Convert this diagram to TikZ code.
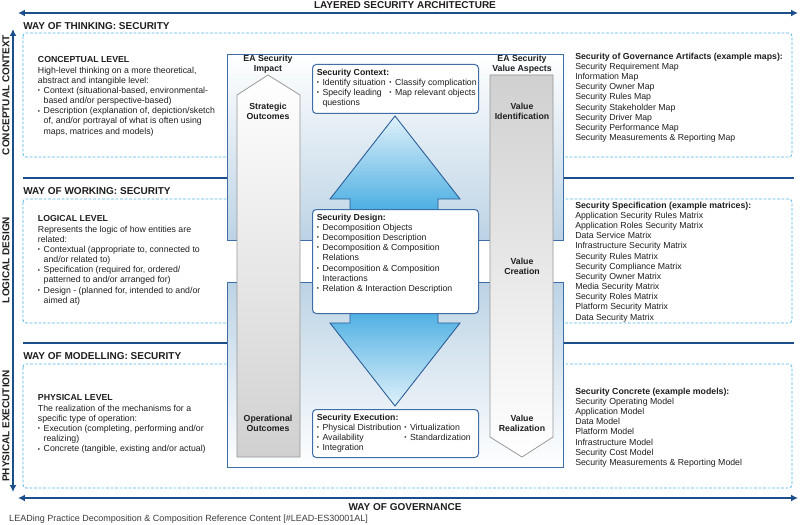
\documentclass[tikz,border=0pt]{standalone}
\usepackage{fontspec}
\setmainfont{Liberation Sans}
\usepackage{tikz}
\usetikzlibrary{positioning,arrows.meta}
\definecolor{govblue}{RGB}{28,78,140}
\definecolor{dashblue}{RGB}{80,180,230}
\definecolor{panelline}{RGB}{62,110,168}
\definecolor{panelfill}{RGB}{188,211,229}
\definecolor{flowlight}{RGB}{224,241,250}
\definecolor{flowdark}{RGB}{68,171,225}
\definecolor{flowline}{RGB}{40,92,150}
\definecolor{colgray}{RGB}{208,208,208}
\definecolor{colline}{RGB}{150,150,150}
\definecolor{textgray}{RGB}{30,30,30}
\definecolor{footgray}{RGB}{60,60,60}
\newcommand{\blt}{\makebox[4.6pt][l]{\raisebox{0.6pt}{\fontsize{5}{5}\selectfont\textbullet}}}
\newcommand{\contline}{\hspace*{4.6pt}}
\tikzstyle{heading} = [anchor=west, inner sep=0pt, text=textgray, font=\fontsize{8}{9}\selectfont\bfseries]
\tikzstyle{body} = [anchor=north west, inner sep=0pt, align=left, text=textgray, font=\fontsize{7}{8.15}\selectfont]
\tikzstyle{collabel} = [align=center, inner sep=0pt, text=textgray, font=\fontsize{7}{8}\selectfont\bfseries]
\tikzstyle{layer} = [draw=dashblue, line width=0.6pt, dash pattern=on 2.2pt off 1.4pt, rounded corners=2.5pt]
\tikzstyle{sepline} = [draw=govblue, line width=0.9pt]
\tikzstyle{panel} = [draw=panelline, line width=0.7pt]
\tikzstyle{impactcol} = [draw=colline, line width=0.6pt, top color=white, bottom color=colgray]
\tikzstyle{valuecol} = [draw=colline, line width=0.6pt, top color=colgray, bottom color=white]
\tikzstyle{flow} = [draw=flowline, line width=0.7pt]
\tikzstyle{secbox} = [draw=panelline, fill=white, line width=0.8pt, rounded corners=3pt, anchor=north west, inner sep=0pt, minimum width=132.8pt]
\tikzstyle{govarrow} = [govblue, line width=1.2pt, {Latex[length=5.5pt,width=5.5pt]}-{Latex[length=5.5pt,width=5.5pt]}]

\begin{document}
\begin{tikzpicture}[x=0.8pt,y=-0.8pt]
    \useasboundingbox (0,0) rectangle (800,525);
    \draw[layer] (23,33) rectangle (792,157);
    \draw[layer] (23,199) rectangle (792,323);
    \draw[layer] (23,364) rectangle (792,488);
    \draw[sepline] (23,178) -- (794,178);
    \draw[sepline] (23,343) -- (794,343);
    \draw[panel, top color=white, bottom color=panelfill] (227,54) rectangle (563,240);
    \draw[panel, top color=panelfill, bottom color=white] (227,282) rectangle (563,467);
    \draw[impactcol] (237,95) -- (268,75) -- (300,95) -- (300,457) -- (237,457) -- cycle;
    \draw[valuecol] (490,75) -- (553,75) -- (553,437) -- (522,457) -- (490,437) -- cycle;
    \draw[flow, top color=flowlight, bottom color=flowdark] (395,116) -- (460,199) -- (438,199) -- (438,215) -- (350,215) -- (350,199) -- (330,199) -- cycle;
    \draw[flow, top color=flowdark, bottom color=flowlight] (350,305) -- (438,305) -- (438,323) -- (460,323) -- (395,406) -- (330,323) -- (350,323) -- cycle;

    \coordinate (archw) at (18,13);
    \coordinate (arche) at (798,13);
    \coordinate (levtop) at (13,29);
    \coordinate (levbot) at (13,492);
    \coordinate (govw) at (18,498);
    \coordinate (gove) at (798,498);
    \draw[govarrow] (archw) -- (arche);
    \draw[govarrow] (levtop) -- (levbot);
    \draw[govarrow] (govw) -- (gove);

    \node[heading, anchor=center] (arch) at (405,5.5) {LAYERED SECURITY ARCHITECTURE};
    \node[heading, anchor=center] (gov) at (405,507) {WAY OF GOVERNANCE};
    \node[heading, anchor=center, rotate=90] (cctx) at (6,95) {CONCEPTUAL CONTEXT};
    \node[heading, anchor=center, rotate=90] (ldes) at (6,260) {LOGICAL DESIGN};
    \node[heading, anchor=center, rotate=90] (pexe) at (6,426) {PHYSICAL EXECUTION};
    \node[heading] (think) at (23,26) {WAY OF THINKING: SECURITY};
    \node[heading] (work) at (23,191) {WAY OF WORKING: SECURITY};
    \node[heading] (model) at (23,356) {WAY OF MODELLING: SECURITY};

    \node[body] (conc) at (37.7,56.5) {\textbf{CONCEPTUAL LEVEL}\\
        High-level thinking on a more theoretical,\\
        abstract and intangible level:\\
        \blt Context (situational-based, environmental-\\
        \contline based and/or perspective-based)\\
        \blt Description (explanation of, depiction/sketch\\
        \contline of, and/or portrayal of what is often using\\
        \contline maps, matrices and models)};
    \node[body] (logi) at (37.7,215.5) {\textbf{LOGICAL LEVEL}\\
        Represents the logic of how entities are\\
        related:\\
        \blt Contextual (appropriate to, connected to\\
        \contline and/or related to)\\
        \blt Specification (required for, ordered/\\
        \contline patterned to and/or arranged for)\\
        \blt Design - (planned for, intended to and/or\\
        \contline aimed at)};
    \node[body] (phys) at (37.7,394.5) {\textbf{PHYSICAL LEVEL}\\
        The realization of the mechanisms for a\\
        specific type of operation:\\
        \blt Execution (completing, performing and/or\\
        \contline realizing)\\
        \blt Concrete (tangible, existing and/or actual)};

    \node[body] (maps) at (575,52.5) {\textbf{Security of Governance Artifacts (example maps):}\\
        Security Requirement Map\\
        Information Map\\
        Security Owner Map\\
        Security Rules Map\\
        Security Stakeholder Map\\
        Security Driver Map\\
        Security Performance Map\\
        Security Measurements \& Reporting Map};
    \node[body] (matr) at (575,201.5) {\textbf{Security Specification (example matrices):}\\
        Application Security Rules Matrix\\
        Application Roles Security Matrix\\
        Data Service Matrix\\
        Infrastructure Security Matrix\\
        Security Rules Matrix\\
        Security Compliance Matrix\\
        Security Owner Matrix\\
        Media Security Matrix\\
        Security Roles Matrix\\
        Platform Security Matrix\\
        Data Security Matrix};
    \node[body] (mods) at (575,387.5) {\textbf{Security Concrete (example models):}\\
        Security Operating Model\\
        Application Model\\
        Data Model\\
        Platform Model\\
        Infrastructure Model\\
        Security Cost Model\\
        Security Measurements \& Reporting Model};

    \node[collabel] (impact) at (268,64.5) {EA Security\\Impact};
    \node[collabel] (aspects) at (522,64.5) {EA Security\\Value Aspects};
    \node[collabel] (strat) at (268,111) {Strategic\\Outcomes};
    \node[collabel] (oper) at (268,423) {Operational\\Outcomes};
    \node[collabel] (ident) at (522,111) {Value\\Identification};
    \node[collabel] (creat) at (522,266) {Value\\Creation};
    \node[collabel] (real) at (522,423) {Value\\Realization};

    \node[secbox, minimum height=39.2pt] (ctx) at (312,64) {};
    \node[secbox, minimum height=83.2pt] (dsg) at (312,209) {};
    \node[secbox, minimum height=38.4pt] (exe) at (312,409) {};
    \node[body, below right=3.6pt and 3.6pt of ctx.north west] (ctxtxt) {\textbf{Security Context:}\\
        \makebox[58pt][l]{\blt Identify situation}\blt Classify complication\\
        \makebox[58pt][l]{\blt Specify leading}\blt Map relevant objects\\
        \contline questions};
    \node[body, below right=3.6pt and 3.6pt of dsg.north west] (dsgtxt) {\textbf{Security Design:}\\
        \blt Decomposition Objects\\
        \blt Decomposition Description\\
        \blt Decomposition \& Composition\\
        \contline Relations\\
        \blt Decomposition \& Composition\\
        \contline Interactions\\
        \blt Relation \& Interaction Description};
    \node[body, below right=3.6pt and 3.6pt of exe.north west] (exetxt) {\textbf{Security Execution:}\\
        \makebox[70pt][l]{\blt Physical Distribution}\blt Virtualization\\
        \makebox[70pt][l]{\blt Availability}\blt Standardization\\
        \blt Integration};

    \node[anchor=west, inner sep=0pt, text=footgray, font=\fontsize{7.2}{8}\selectfont] (foot) at (9,519) {LEADing Practice Decomposition \& Composition Reference Content [\#LEAD-ES30001AL]};
\end{tikzpicture}
\end{document}
